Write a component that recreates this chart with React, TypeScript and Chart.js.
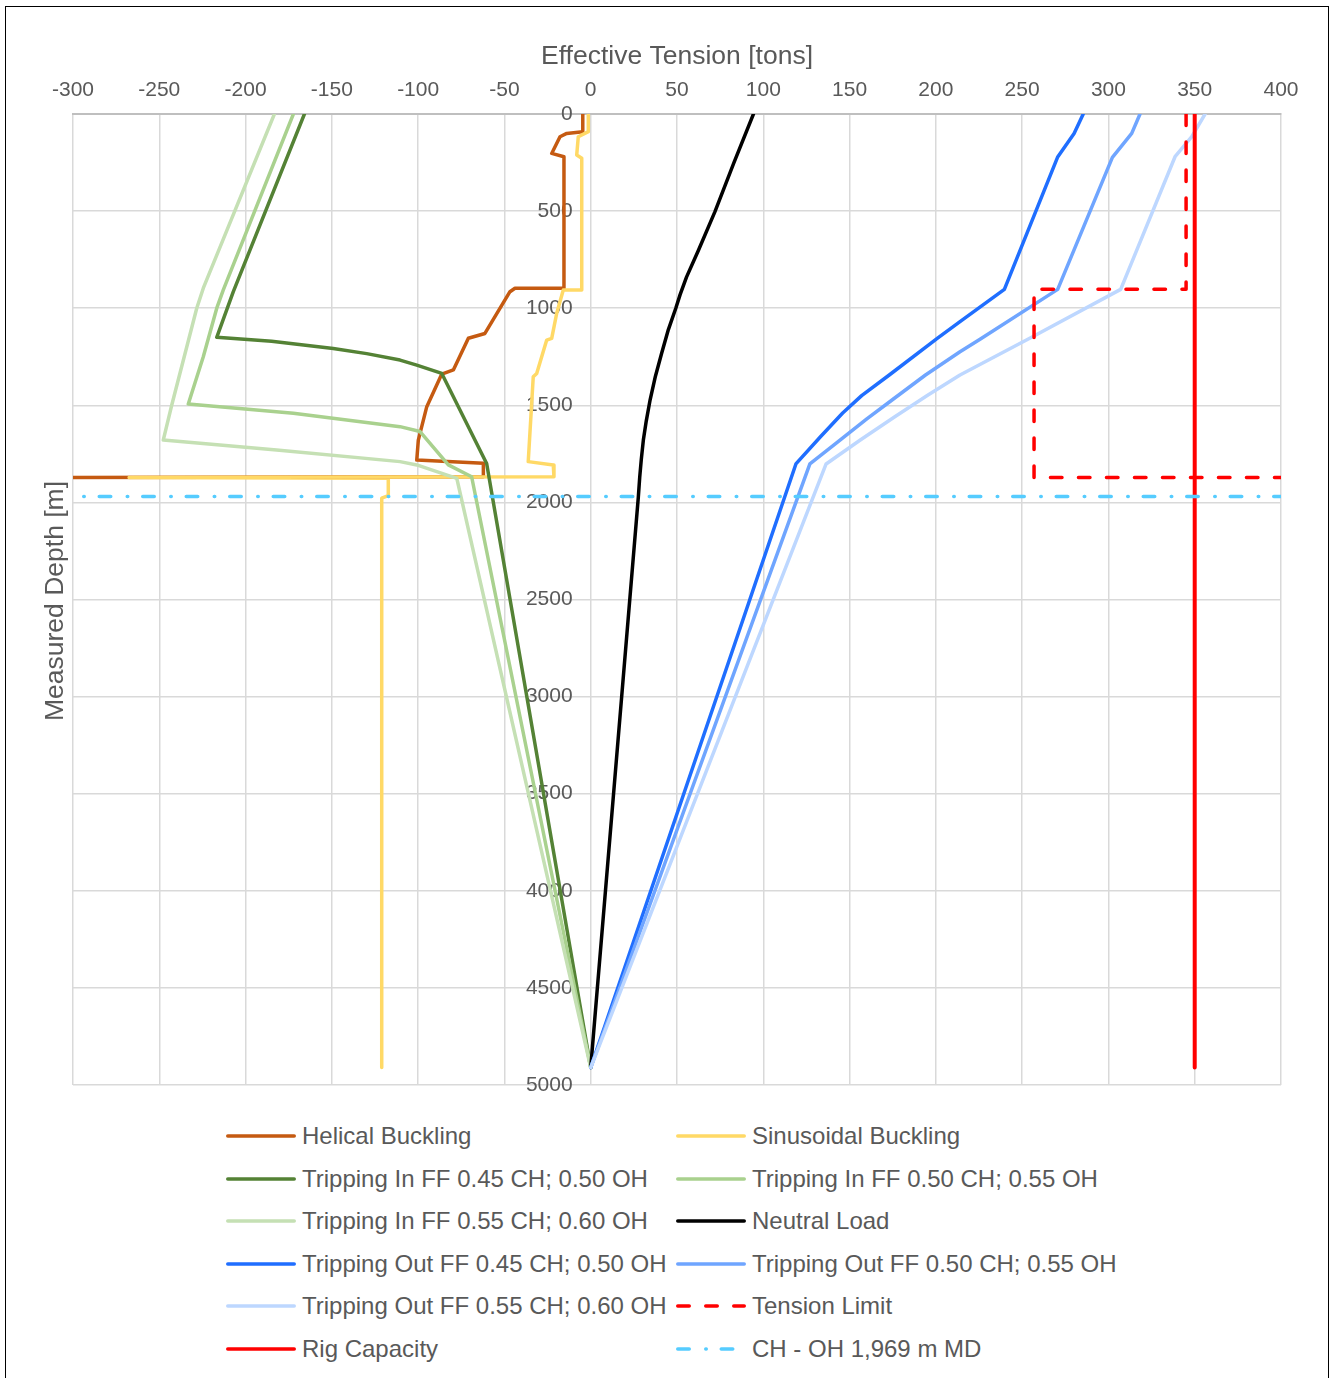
import React, { useEffect, useRef } from "react";
import { Chart, registerables } from "chart.js";

Chart.register(...registerables);

// ---- axis settings ----
const TENSION_MIN = -300;
const TENSION_MAX = 400;
const TENSION_STEP = 50;
const DEPTH_MIN = 0;
const DEPTH_MAX = 5000;
const DEPTH_STEP = 500;

const X_TITLE = "Effective Tension [tons]";
const Y_TITLE = "Measured Depth [m]";

// ---- series data (tension [tons], measured depth [m]) ----
const helicalT = [-4.6, -4.6, -13.9, -17.8, -22.6, -15.5, -15.5, -43.9, -46.8, -61.3, -70.9, -79.6, -86.3, -95.0, -99.9, -100.8, -62.2, -62.2, -420];
const helicalD = [0, 91, 100, 117, 203, 220, 897, 897, 915, 1130, 1155, 1318, 1339, 1507, 1679, 1782, 1798, 1868, 1873];

const sinusoidalT = [-1.4, -1.4, -7.2, -8.1, -5.2, -5.2, -15.9, -19.7, -22.6, -25.5, -31.3, -33.3, -36.2, -21.7, -21.3, -267.5, -117.3, -117.3, -121.1, -121.1];
const sinusoidalD = [0, 91, 117, 211, 228, 906, 906, 1026, 1155, 1164, 1336, 1353, 1790, 1807, 1868, 1872, 1875, 1965, 1978, 4910];

const tripIn45T = [-165.9, -207.1, -216.7, -184.9, -149.2, -129.8, -110.5, -100.8, -86.3, -60.3, 0];
const tripIn45D = [0, 915, 1150, 1170, 1207, 1234, 1267, 1293, 1336, 1800, 4910];

const tripIn50T = [-172.3, -212.9, -216.7, -224.5, -233.2, -172.3, -110.5, -98.9, -82.5, -69.0, 0];
const tripIn50D = [0, 906, 1000, 1250, 1493, 1541, 1610, 1635, 1807, 1868, 4910];

const tripIn55T = [-183.3, -224.5, -228.3, -242.8, -247.7, -182.0, -110.5, -100.8, -77.6, 0];
const tripIn55D = [0, 897, 1000, 1500, 1679, 1730, 1790, 1807, 1876, 4910];

const neutralT = [94.3, 83.0, 72.0, 62.5, 55.5, 51.8, 49.3, 45.0, 41.1, 37.5, 34.4, 32.2, 30.5, 29.3, 28.4, 27.6, 0];
const neutralD = [0, 250, 503, 700, 840, 930, 1000, 1110, 1232, 1350, 1473, 1580, 1679, 1780, 1870, 1971, 4910];

const tripOut45T = [285.4, 280.1, 270.5, 239.7, 214.0, 201.0, 173.0, 157.0, 146.0, 133.0, 118.9, 0];
const tripOut45D = [0, 100, 223, 903, 1069, 1154, 1344, 1450, 1540, 1663, 1802, 4910];

const tripOut50T = [318.3, 313.5, 302.3, 270.6, 225.6, 214.0, 194.0, 175.0, 160.0, 143.0, 127.0, 0];
const tripOut50D = [0, 100, 223, 903, 1160, 1224, 1344, 1470, 1570, 1690, 1802, 4910];

const tripOut55T = [356.0, 348.3, 338.6, 307.1, 255.5, 214.0, 195.0, 176.0, 156.0, 136.4, 0];
const tripOut55D = [0, 117, 220, 903, 1150, 1344, 1450, 1560, 1680, 1802, 4910];

const tensionLimitT = [345, 345, 256.9, 256.9, 410];
const tensionLimitD = [0, 903, 903, 1872, 1872];

const rigCapacityT = [350, 350];
const rigCapacityD = [0, 4910];

const chOhT = [-310, 410];
const chOhD = [1969, 1969];

const seriesLabels = [
  "Helical Buckling",
  "Sinusoidal Buckling",
  "Tripping In FF 0.45 CH; 0.50 OH",
  "Tripping In FF 0.50 CH; 0.55 OH",
  "Tripping In FF 0.55 CH; 0.60 OH",
  "Neutral Load",
  "Tripping Out FF 0.45 CH; 0.50 OH",
  "Tripping Out FF 0.50 CH; 0.55 OH",
  "Tripping Out FF 0.55 CH; 0.60 OH",
  "Tension Limit",
  "Rig Capacity",
  "CH - OH 1,969 m MD",
];

const seriesValues = [
  [helicalT, helicalD],
  [sinusoidalT, sinusoidalD],
  [tripIn45T, tripIn45D],
  [tripIn50T, tripIn50D],
  [tripIn55T, tripIn55D],
  [neutralT, neutralD],
  [tripOut45T, tripOut45D],
  [tripOut50T, tripOut50D],
  [tripOut55T, tripOut55D],
  [tensionLimitT, tensionLimitD],
  [rigCapacityT, rigCapacityD],
  [chOhT, chOhD],
];

// ---- styles ----
const seriesStyles = [
  { color: "#C55A11", width: 3.5, dash: [] as number[] },
  { color: "#FFD966", width: 3.5, dash: [] },
  { color: "#548235", width: 3.5, dash: [] },
  { color: "#A9D18E", width: 3.5, dash: [] },
  { color: "#C5E0B4", width: 3.5, dash: [] },
  { color: "#000000", width: 3.5, dash: [] },
  { color: "#1F6EFF", width: 3.5, dash: [] },
  { color: "#6FA5FF", width: 3.5, dash: [] },
  { color: "#BDD7FF", width: 3.5, dash: [] },
  { color: "#FF0000", width: 3.5, dash: [11.5, 16.5] },
  { color: "#FF0000", width: 4, dash: [] },
  { color: "#55CCFF", width: 3.5, dash: [11.5, 16.5, 0.5, 15] },
];

const FONT = '"Liberation Sans", Arial, sans-serif';
const TEXT_COLOR = "#595959";
const GRID_COLOR = "#D9D9D9";

const CANVAS_W = 1320;
const CANVAS_H = 1100;

const yTitlePlugin = {
  id: "yTitlePlugin",
  afterDraw(chart: any) {
    const ctx = chart.ctx;
    ctx.save();
    ctx.font = `26.5px ${FONT}`;
    ctx.fillStyle = TEXT_COLOR;
    ctx.textAlign = "center";
    ctx.textBaseline = "middle";
    ctx.translate(51, 595);
    ctx.rotate(-Math.PI / 2);
    ctx.fillText(Y_TITLE, 0, 0);
    ctx.restore();
  },
};

export default function App() {
  const canvasRef = useRef<HTMLCanvasElement | null>(null);

  useEffect(() => {
    if (!canvasRef.current) return;
    const n = seriesLabels.length;
    const datasets = seriesLabels.map((label, i) => {
      const [t, d] = seriesValues[i];
      const st = seriesStyles[i];
      return {
        label,
        data: t.map((x, k) => ({ x, y: d[k] })),
        borderColor: st.color,
        backgroundColor: st.color,
        borderWidth: st.width,
        borderDash: st.dash,
        borderCapStyle: "round",
        borderJoinStyle: "round",
        showLine: true,
        pointRadius: 0,
        pointHoverRadius: 0,
        tension: 0,
        fill: false,
        order: n - i,
      };
    });

    const chart = new Chart(canvasRef.current, {
      type: "scatter",
      data: { datasets: datasets as any },
      plugins: [yTitlePlugin],
      options: {
        responsive: false,
        animation: false,
        events: [],
        layout: {
          padding: { left: 68, right: CANVAS_W - 1276, top: 0, bottom: CANVAS_H - 1079 },
        },
        plugins: {
          legend: { display: false },
          tooltip: { enabled: false },
        },
        scales: {
          x: {
            type: "linear",
            position: "top",
            min: TENSION_MIN,
            max: TENSION_MAX,
            ticks: {
              stepSize: TENSION_STEP,
              font: { size: 21, family: FONT },
              color: TEXT_COLOR,
              padding: 11,
              callback: (v: any) => String(v),
            },
            grid: { color: GRID_COLOR, lineWidth: 1.5, drawTicks: false },
            border: { display: true, color: "#BFBFBF", width: 2 },
            title: {
              display: true,
              text: X_TITLE,
              font: { size: 26.5, family: FONT },
              color: TEXT_COLOR,
              padding: { top: 35, bottom: 0 },
            },
            afterFit: (s: any) => {
              s.height = 108;
            },
          },
          y: {
            type: "linear",
            position: { x: -10.5 } as any,
            reverse: true,
            min: DEPTH_MIN,
            max: DEPTH_MAX,
            ticks: {
              stepSize: DEPTH_STEP,
              font: { size: 21, family: FONT },
              color: TEXT_COLOR,
              padding: 0,
              callback: (v: any) => String(v),
            },
            grid: { color: GRID_COLOR, lineWidth: 1.5, drawTicks: false },
            border: { display: false },
          },
        },
      } as any,
    });
    return () => chart.destroy();
  }, []);

  const legendRow0 = 1130;
  const legendRowStep = 42.6;

  return (
    <div
      style={{
        position: "absolute",
        left: 5,
        top: 6,
        width: 1324,
        height: 1380,
        border: "1px solid #000",
        boxSizing: "border-box",
        background: "#fff",
      }}
    >
      <canvas
        ref={canvasRef}
        width={CANVAS_W}
        height={CANVAS_H}
        style={{ position: "absolute", left: -1, top: -1, display: "block" }}
      />
      {seriesLabels.map((label, i) => {
        const col = i % 2;
        const row = Math.floor(i / 2);
        const st = seriesStyles[i];
        const dashStr = st.dash.length ? st.dash.join(" ") : undefined;
        return (
          <div
            key={label}
            style={{
              position: "absolute",
              left: (col === 0 ? 221 : 671) - 1,
              top: legendRow0 + row * legendRowStep - 15 - 1,
              height: 30,
              display: "flex",
              alignItems: "center",
              whiteSpace: "nowrap",
            }}
          >
            <svg width={70} height={10} style={{ display: "block" }}>
              <line
                x1={1.75}
                y1={5}
                x2={68.25}
                y2={5}
                stroke={st.color}
                strokeWidth={3.5}
                strokeLinecap="round"
                strokeDasharray={dashStr}
              />
            </svg>
            <span
              style={{
                marginLeft: 6,
                fontFamily: FONT,
                fontSize: 24,
                color: TEXT_COLOR,
                lineHeight: "30px",
              }}
            >
              {label}
            </span>
          </div>
        );
      })}
    </div>
  );
}
